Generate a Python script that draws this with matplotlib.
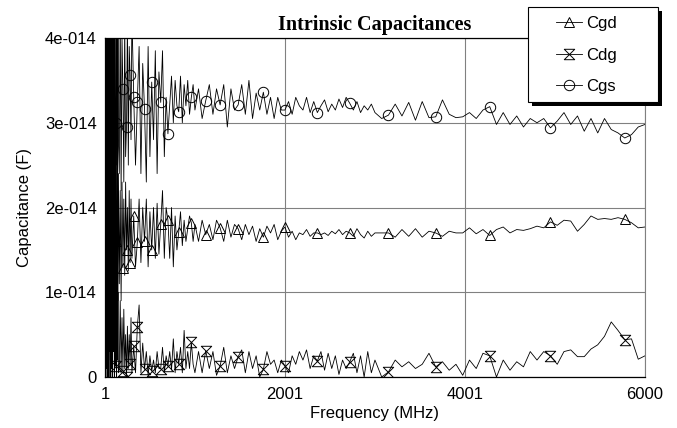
import matplotlib
matplotlib.use("Agg")
import matplotlib.pyplot as plt
from matplotlib.path import Path
from matplotlib.lines import Line2D
from matplotlib.patches import Rectangle
import numpy as np

# sweep frequencies (MHz), finer steps at the low end
freq_mhz = [1, 5, 10, 15, 20, 25, 30, 35, 40, 45, 50, 55, 60, 65, 70, 75, 80, 85, 90,
            95, 100, 105, 110, 115, 120, 125, 130, 135, 140, 145, 150,
            160, 170, 180, 190, 200, 210, 220, 230, 240, 250, 260, 270, 280, 290, 300,
            320, 340, 360, 380, 400, 420, 440, 460, 480, 500, 520, 540, 560, 580, 600,
            620, 640, 660, 680, 700, 720, 740, 760, 780, 800, 820, 840, 860, 880, 900,
            920, 940, 960, 980, 1000,
            1040, 1080, 1120, 1160, 1200, 1240, 1280, 1320, 1360, 1400, 1440, 1480,
            1520, 1560, 1600, 1640, 1680, 1720, 1760, 1800, 1840, 1880, 1920, 1960,
            2000, 2040, 2080, 2120, 2160, 2200, 2240, 2280, 2320, 2360, 2400, 2440,
            2480, 2520, 2560, 2600, 2640, 2680, 2720, 2760, 2800, 2840, 2880, 2920,
            2960, 3000,
            3075, 3150, 3225, 3300, 3375, 3450, 3525, 3600, 3675, 3750, 3825, 3900,
            3975, 4050, 4125, 4200, 4275, 4350, 4425, 4500, 4575, 4650, 4725, 4800,
            4875, 4950, 5025, 5100, 5175, 5250, 5325, 5400, 5475, 5550, 5625, 5700,
            5775, 5850, 5925, 6000]

# frequencies where the symbols are drawn
marker_mhz = [120, 200, 240, 280, 320, 360, 440, 520, 620, 700, 820, 960, 1120,
              1280, 1480, 1760, 2000, 2360, 2720, 3150, 3675, 4275, 4950, 5775]

# capacitances in units of 1e-14 F
cgd = [0.2, 4.4, 0.5, 3.2, 0.1, 4.5, 0.4, 2.8, 0.0, 4.2, 0.6, 3.5, 0.2, 4.5, 0.3, 2.5,
       0.9, 3.9, 0.5, 3.6, 0.9, 2.6, 1.0, 3.0, 1.6, 0.8, 2.9, 1.0, 2.4, 0.9, 2.4,
       1.1, 2.2, 0.9, 2.3, 1.29, 2.1, 1.2, 2.3, 1.5, 2.0, 1.25, 2.2, 1.35, 2.1, 1.4,
       1.9, 1.3, 1.59, 2.1, 1.35, 2.0, 1.6, 2.1, 1.3, 1.95, 1.50, 2.0, 1.4, 2.05, 1.45,
       1.8, 2.2, 1.4, 2.0, 1.85, 1.4, 2.0, 1.3, 1.9, 1.5, 1.71, 1.95, 1.55, 1.85, 1.6,
       1.75, 1.9, 1.82, 1.6, 1.8,
       1.6, 1.85, 1.68, 1.8, 1.62, 1.85, 1.76, 1.6, 1.85, 1.65, 1.8, 1.75, 1.62, 1.8,
       1.68, 1.78, 1.6, 1.75, 1.65, 1.78, 1.7, 1.8, 1.62, 1.72, 1.77, 1.65, 1.72, 1.62,
       1.7, 1.68, 1.74, 1.66, 1.7, 1.70, 1.68, 1.7, 1.67, 1.72, 1.69, 1.74, 1.68, 1.72,
       1.70, 1.66, 1.75, 1.68, 1.64, 1.72, 1.66, 1.7,
       1.70, 1.70, 1.65, 1.74, 1.66, 1.75, 1.65, 1.72, 1.70, 1.66, 1.72, 1.7, 1.70,
       1.76, 1.69, 1.74, 1.67, 1.74, 1.77, 1.7, 1.74, 1.73, 1.75, 1.78, 1.76, 1.83,
       1.79, 1.85, 1.84, 1.72, 1.8, 1.9, 1.86, 1.87, 1.86, 1.88, 1.86, 1.82, 1.76, 1.77]

cdg = [3.8, 0.0, 2.5, 0.2, 4.5, 0.0, 3.0, 0.1, 4.0, 0.0, 2.0, 0.3, 4.2, 0.0, 3.5, 0.1,
       2.4, 0.0, 4.2, 0.3, 1.5, 0.0, 2.6, 0.2, 0.13, 1.8, 0.0, 1.4, 0.2, 1.0, 0.05,
       0.1, 0.9, 0.05, 0.7, 0.07, 0.8, 0.1, 0.5, 0.0, 0.6, 0.1, 0.5, 0.15, 0.7, 0.05,
       0.36, 0.05, 0.59, 0.85, 0.05, 0.4, 0.09, 0.3, 0.02, 0.25, 0.07, 0.2, 0.05, 0.3,
       0.1, 0.1, 0.35, 0.05, 0.25, 0.13, 0.3, 0.08, 0.45, 0.05, 0.3, 0.15, 0.35, 0.05,
       0.55, 0.1, 0.3, 0.1, 0.41, 0.15, 0.05,
       0.3, 0.05, 0.31, 0.1, 0.3, 0.02, 0.13, 0.35, 0.05, 0.25, 0.1, 0.24, 0.32, 0.05,
       0.3, 0.1, 0.25, 0.0, 0.09, 0.3, 0.15, 0.2, 0.05, 0.2, 0.13, 0.05, 0.25, 0.15,
       0.3, 0.2, 0.32, 0.1, 0.25, 0.19, 0.3, 0.08, 0.28, 0.1, 0.25, 0.03, 0.2, 0.1,
       0.18, 0.28, 0.05, 0.25, 0.0, 0.3, 0.05, 0.2,
       0.0, 0.06, 0.2, 0.12, 0.18, 0.1, 0.15, 0.28, 0.12, 0.18, 0.08, 0.15, 0.02, 0.2,
       0.1, 0.28, 0.25, 0.0, 0.2, 0.08, 0.18, 0.12, 0.3, 0.2, 0.3, 0.25, 0.15, 0.3,
       0.32, 0.24, 0.24, 0.33, 0.38, 0.48, 0.65, 0.55, 0.44, 0.45, 0.21, 0.25]

cgs = [4.5, 0.3, 4.6, 0.8, 4.4, 0.1, 4.6, 1.5, 4.5, 0.4, 4.3, 1.1, 4.6, 0.6, 4.5, 2.0,
       4.4, 0.9, 4.6, 1.6, 4.3, 2.2, 4.5, 1.4, 3.0, 4.4, 2.5, 4.5, 2.0, 4.2, 2.8,
       2.4, 4.3, 2.2, 4.0, 3.4, 2.3, 4.2, 2.6, 2.95, 4.2, 2.5, 3.9, 3.56, 2.8, 4.3,
       3.30, 2.5, 3.24, 3.9, 2.4, 3.7, 3.16, 2.3, 3.9, 2.6, 3.48, 2.8, 3.85, 2.4, 3.6,
       3.24, 3.85, 2.6, 3.3, 2.87, 3.2, 3.55, 3.0, 3.5, 3.2, 3.13, 3.55, 3.0, 3.45, 3.2,
       3.5, 3.1, 3.30, 3.45, 3.15,
       3.4, 3.05, 3.26, 3.45, 3.1, 3.4, 3.21, 3.45, 2.95, 3.4, 3.15, 3.21, 3.45, 3.1,
       3.5, 3.05, 3.35, 3.15, 3.36, 3.1, 3.3, 3.05, 3.3, 3.15, 3.15, 3.25, 3.1, 3.3,
       3.2, 3.15, 3.3, 3.12, 3.25, 3.12, 3.2, 3.27, 3.13, 3.22, 3.15, 3.28, 3.18, 3.3,
       3.23, 3.15, 3.25, 3.12, 3.2, 3.15, 3.22, 3.12,
       3.05, 3.09, 3.22, 3.08, 3.24, 3.03, 3.25, 3.06, 3.07, 3.27, 3.10, 3.06, 3.07,
       3.12, 3.05, 3.15, 3.19, 2.98, 3.12, 2.98, 3.08, 2.95, 3.05, 3.0, 3.05, 2.94,
       3.02, 3.12, 2.98, 3.08, 2.90, 3.05, 2.88, 3.05, 2.92, 2.88, 2.82, 2.86, 2.95, 2.98]

x_ticks = [1, 2001, 4001, 6000]
y_ticks = [0, 1e-14, 2e-14, 3e-14, 4e-14]
y_tick_labels = ["0", "1e-014", "2e-014", "3e-014", "4e-014"]

plt.rcParams['font.family'] = ['Liberation Sans', 'DejaVu Sans']

# hourglass symbol (two triangles tip to tip)
hourglass = Path([(-1, 1), (1, 1), (-1, -1), (1, -1), (-1, 1)],
                 [Path.MOVETO, Path.LINETO, Path.LINETO, Path.LINETO, Path.CLOSEPOLY])

W, H = 677, 428
fig = plt.figure(figsize=(W / 100, H / 100), dpi=100)
ax = fig.add_axes([105 / W, 51 / H, 540 / W, 339 / H])

marks = [freq_mhz.index(f) for f in marker_mhz]
freq = np.array(freq_mhz)
series = [("Cgd", cgd, "^"), ("Cdg", cdg, hourglass), ("Cgs", cgs, "o")]
handles = []
for name, vals, mk in series:
    ax.plot(freq, np.array(vals) * 1e-14, color="black", lw=0.6,
            marker=mk, markevery=marks, ms=7.5, mfc="none", mec="black", mew=0.7)
    handles.append(Line2D([], [], color="black", lw=0.6, marker=mk, ms=7.5,
                          mfc="none", mec="black", mew=0.7, label=name))

ax.set_xlim(1, 6000)
ax.set_ylim(0, 4e-14)
ax.set_xticks(x_ticks)
ax.set_xticklabels([str(t) for t in x_ticks])
ax.set_yticks(y_ticks)
ax.set_yticklabels(y_tick_labels)
ax.tick_params(length=0, labelsize=12, colors="black")
ax.tick_params(axis="x", pad=7)
ax.tick_params(axis="y", pad=6)
ax.grid(True, color="#808080", lw=0.8)
for s in ["left", "bottom", "top"]:
    ax.spines[s].set_color("black")
    ax.spines[s].set_linewidth(0.9)
ax.spines["right"].set_color("#808080")

ax.set_xlabel("Frequency (MHz)", fontsize=12)
ax.set_ylabel("Capacitance (F)", fontsize=12)
ax.xaxis.set_label_coords(0.5, -0.085)
ax.yaxis.set_label_coords(-0.135, 0.5)
ax.set_title("Intrinsic Capacitances", fontsize=14.5, fontweight="bold",
             family="Liberation Serif", pad=6)

# legend box with a solid black drop shadow
fig.add_artist(Rectangle((532 / W, 1 - 106 / H), 130 / W, 95 / H, transform=fig.transFigure,
                         facecolor="black", edgecolor="none", zorder=2))
fig.add_artist(Rectangle((528 / W, 1 - 102 / H), 130 / W, 95 / H, transform=fig.transFigure,
                         facecolor="white", edgecolor="black", lw=0.8, zorder=3))
fig.legend(handles=handles, loc="upper left", bbox_to_anchor=(556 / W, 1 - 16 / H),
           fontsize=12, frameon=False, handlelength=1.55, handletextpad=0.25,
           labelspacing=1.0, borderpad=0, borderaxespad=0)

fig.savefig("out.png", dpi=100)
